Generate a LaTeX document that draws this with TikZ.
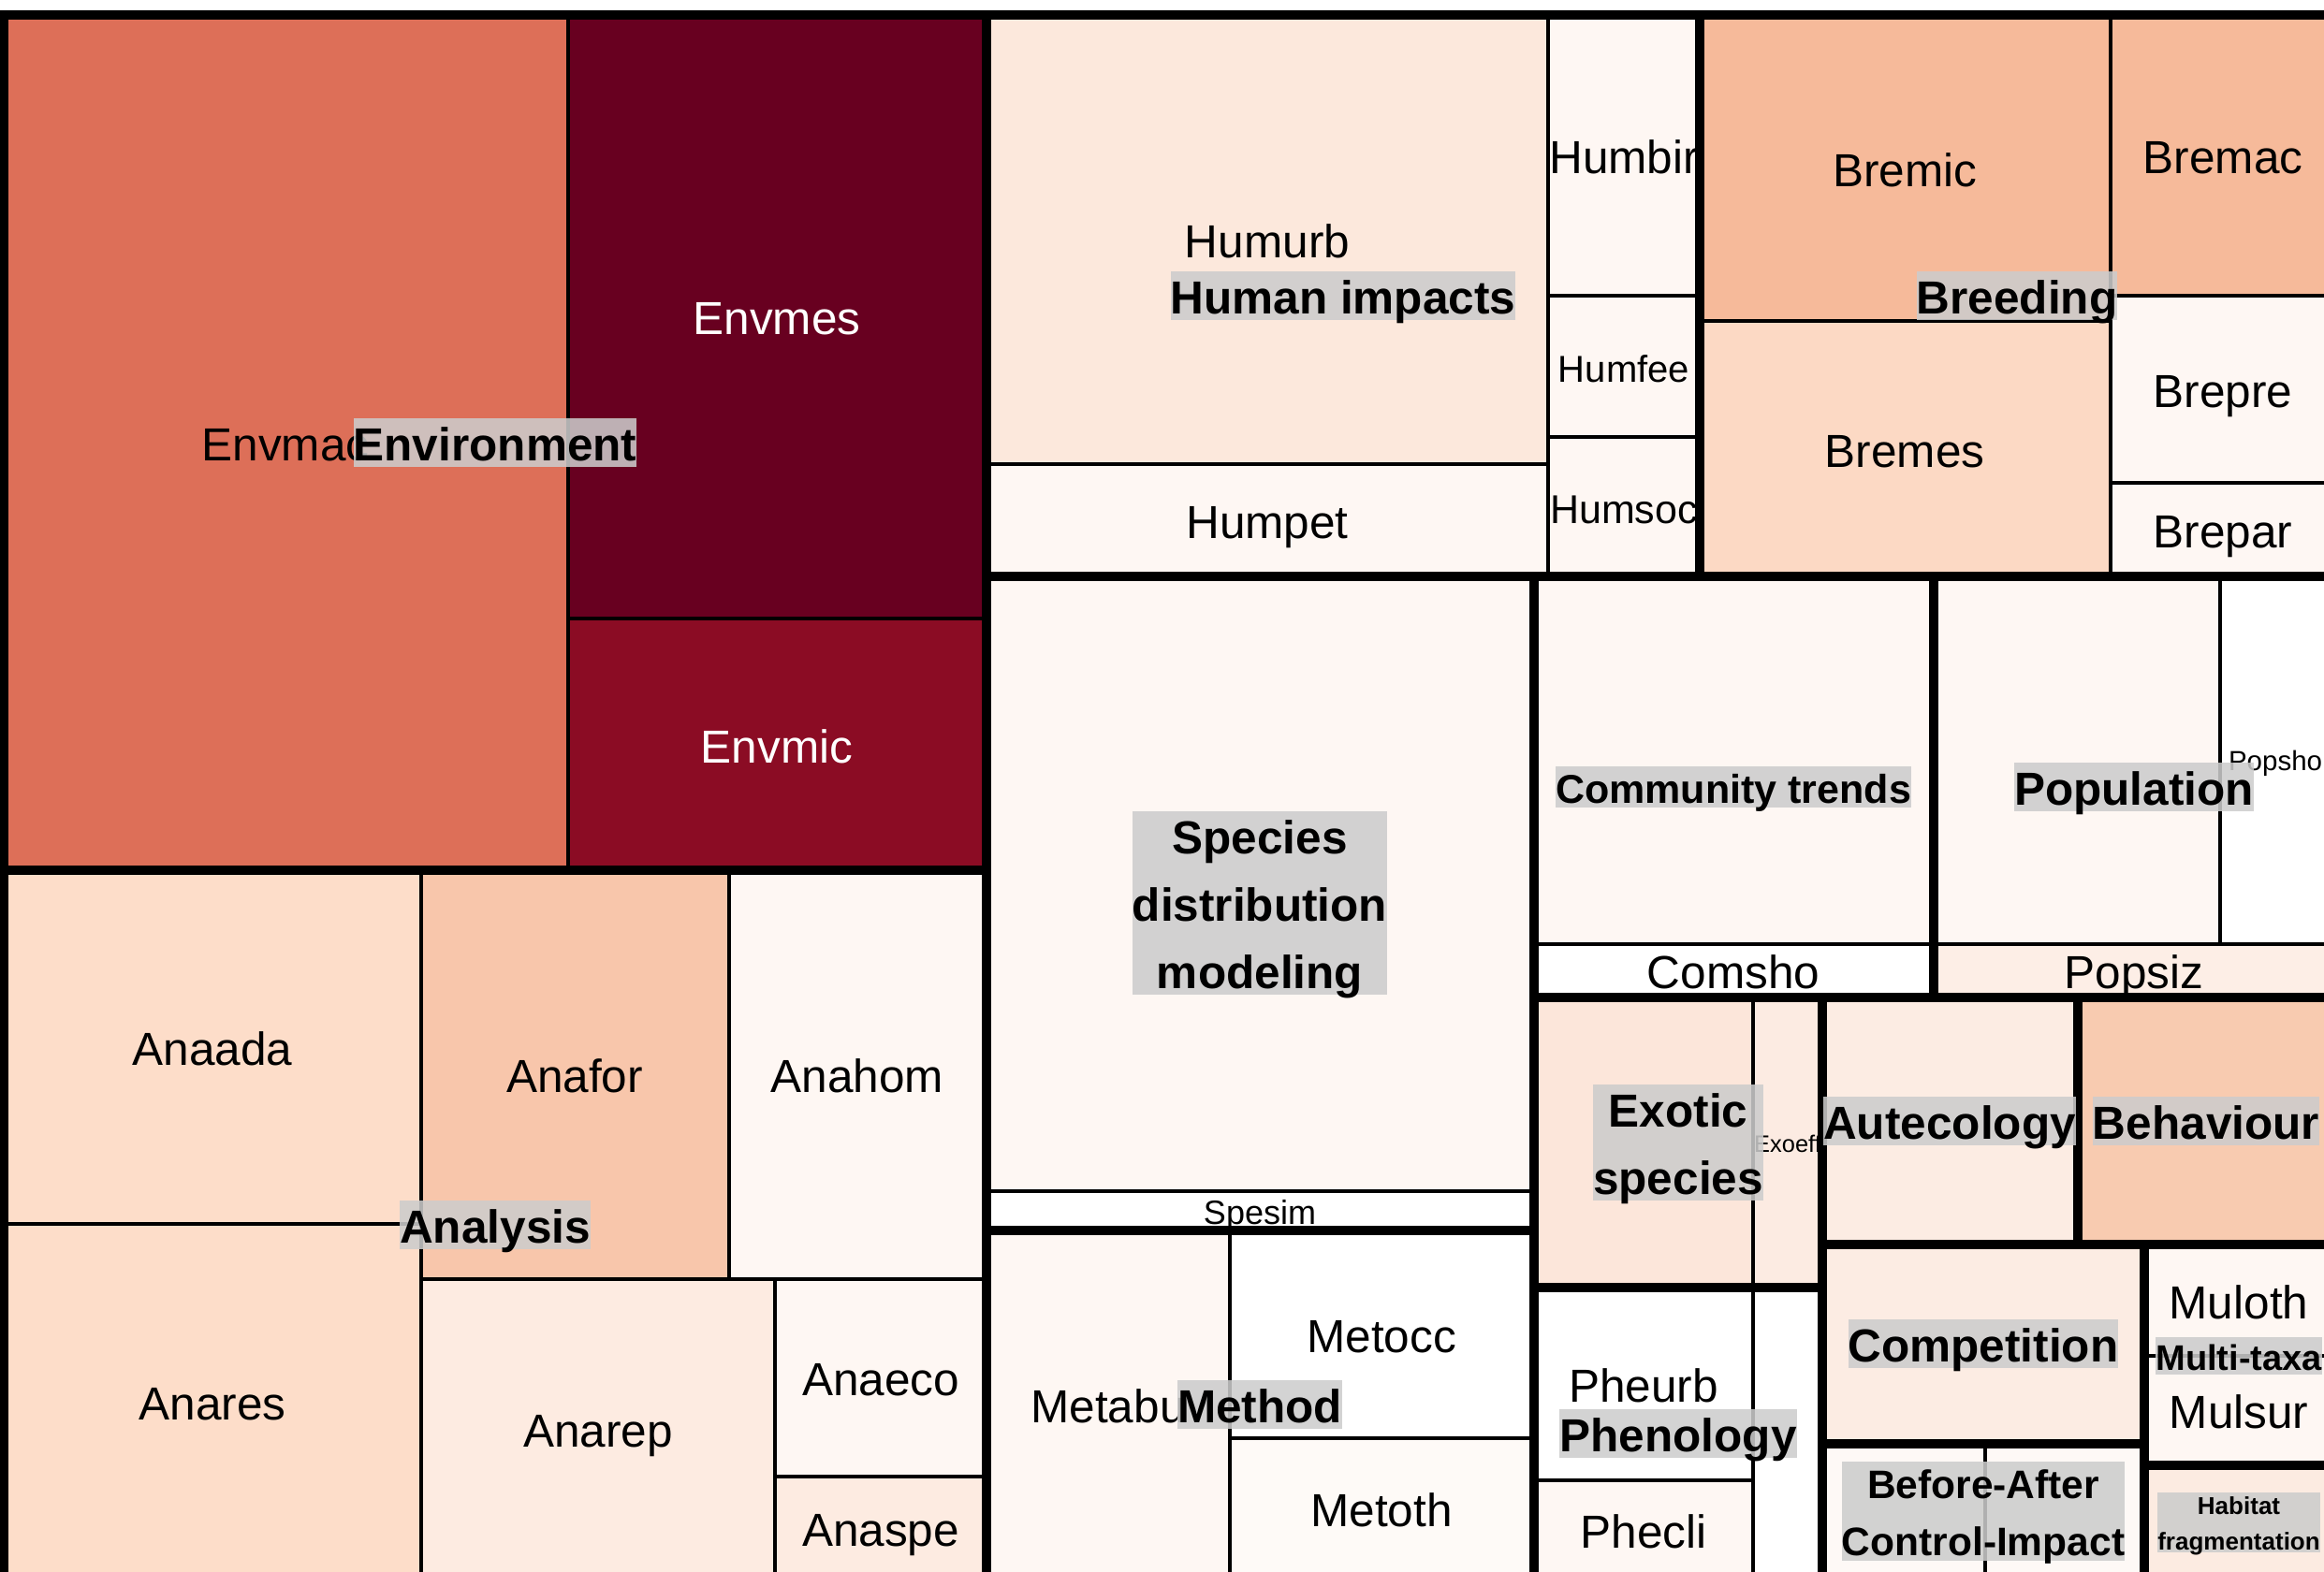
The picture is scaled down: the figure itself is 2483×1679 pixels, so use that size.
\documentclass[tikz,border=0pt]{standalone}
\usepackage{fontspec}
\setmainfont{Liberation Sans}

% one label line: fixed height/depth strut, glyphs smashed so every box has the same size
\newcommand\labline[1]{\rule[-0.12em]{0pt}{1.04em}\smash{#1}}
% font size with a line spacing of 1.455em
\newcommand\fsz[1]{\fontsize{#1}{#1}\selectfont\baselineskip=1.455em\relax}

\definecolor{labgrey}{RGB}{204,204,204}
\definecolor{cEnvmac}{HTML}{DD6F58}
\definecolor{cEnvmes}{HTML}{680020}
\definecolor{cEnvmic}{HTML}{8B0C24}
\definecolor{cHumurb}{HTML}{FCE8DC}
\definecolor{cPale}{HTML}{FEF7F3}
\definecolor{cBremic}{HTML}{F6BA9A}
\definecolor{cBremes}{HTML}{FCD9C4}
\definecolor{cAnaada}{HTML}{FDDDC9}
\definecolor{cAnafor}{HTML}{F8C6AB}
\definecolor{cAnarep}{HTML}{FDEBE1}
\definecolor{cMetoth}{HTML}{FEFAF7}
\definecolor{cPopsiz}{HTML}{FDEEE6}
\definecolor{cExomain}{HTML}{FCE6DA}
\definecolor{cExoeff}{HTML}{FCEBE2}
\definecolor{cAutec}{HTML}{FCECE3}
\definecolor{cBehav}{HTML}{F8CBB0}
\definecolor{cBaci}{HTML}{FEF9F6}
\definecolor{cHabfrag}{HTML}{FCEBE1}

\begin{document}
\begin{tikzpicture}[x=0.01cm,y=-0.01cm,
  cell/.style={draw=black,line width=1pt},
  group/.style={draw=black,line width=2.85pt},
  sublab/.style={inner sep=0pt,align=center,font=\fsz{#1}},
  sublab/.default=14.08,
  grplab/.style={inner sep=0pt,align=center,fill=labgrey,fill opacity=0.863,
                 text opacity=1,font=\bfseries\fsz{#1}},
  grplab/.default=14.08,
]
\useasboundingbox (0,0) rectangle (2483,1679);
\clip (0,0) rectangle (2483,1679);
\fill[white] (0,0) rectangle (2483,1679);

% ---------- leaf cells ----------
% Environment
\filldraw[cell,fill=cEnvmac] (4,16) rectangle (607,930);
\filldraw[cell,fill=cEnvmes] (607,16) rectangle (1054,661);
\filldraw[cell,fill=cEnvmic] (607,661) rectangle (1054,930);
% Human impacts
\filldraw[cell,fill=cHumurb] (1054,16) rectangle (1654,496);
\filldraw[cell,fill=cPale] (1054,496) rectangle (1654,616);
\filldraw[cell,fill=cPale] (1654,16) rectangle (1816,316);
\filldraw[cell,fill=cPale] (1654,316) rectangle (1816,467);
\filldraw[cell,fill=cPale] (1654,467) rectangle (1816,616);
% Breeding
\filldraw[cell,fill=cBremic] (1816,16) rectangle (2255,343);
\filldraw[cell,fill=cBremes] (1816,343) rectangle (2255,616);
\filldraw[cell,fill=cBremic] (2255,16) rectangle (2494,316);
\filldraw[cell,fill=cPale] (2255,316) rectangle (2494,516);
\filldraw[cell,fill=cPale] (2255,516) rectangle (2494,616);
% Analysis
\filldraw[cell,fill=cAnaada] (4,930) rectangle (450,1308);
\filldraw[cell,fill=cAnaada] (4,1308) rectangle (450,1688);
\filldraw[cell,fill=cAnafor] (450,930) rectangle (779,1367);
\filldraw[cell,fill=cPale] (779,930) rectangle (1054,1367);
\filldraw[cell,fill=cAnarep] (450,1367) rectangle (828,1688);
\filldraw[cell,fill=cPale] (828,1367) rectangle (1054,1578);
\filldraw[cell,fill=cAnarep] (828,1578) rectangle (1054,1688);
% Species distribution modeling
\filldraw[cell,fill=cPale] (1054,616) rectangle (1639,1273);
\filldraw[cell,fill=white] (1054,1273) rectangle (1639,1315);
% Method
\filldraw[cell,fill=cPale] (1054,1315) rectangle (1314,1688);
\filldraw[cell,fill=white] (1314,1315) rectangle (1639,1537);
\filldraw[cell,fill=cMetoth] (1314,1537) rectangle (1639,1688);
% Community trends
\filldraw[cell,fill=cPale] (1639,616) rectangle (2066,1009);
\filldraw[cell,fill=white] (1639,1009) rectangle (2066,1066);
% Population
\filldraw[cell,fill=cPale] (2066,616) rectangle (2372,1009);
\filldraw[cell,fill=white] (2372,616) rectangle (2494,1009);
\filldraw[cell,fill=cPopsiz] (2066,1009) rectangle (2494,1066);
% Exotic species
\filldraw[cell,fill=cExomain] (1639,1066) rectangle (1873,1376);
\filldraw[cell,fill=cExoeff] (1873,1066) rectangle (1947,1376);
% Phenology
\filldraw[cell,fill=white] (1639,1376) rectangle (1873,1582);
\filldraw[cell,fill=cPale] (1639,1582) rectangle (1873,1688);
\filldraw[cell,fill=white] (1873,1376) rectangle (1947,1688);
% Autecology, Behaviour, Competition
\filldraw[cell,fill=cAutec] (1947,1066) rectangle (2220,1330);
\filldraw[cell,fill=cBehav] (2220,1066) rectangle (2494,1330);
\filldraw[cell,fill=cAutec] (1947,1330) rectangle (2291,1543);
% Before-After Control-Impact
\filldraw[cell,fill=cBaci] (1947,1543) rectangle (2121,1688);
\filldraw[cell,fill=cBaci] (2121,1543) rectangle (2291,1688);
% Multi-taxa
\filldraw[cell,fill=cPale] (2291,1330) rectangle (2494,1449);
\filldraw[cell,fill=cPale] (2291,1449) rectangle (2494,1566);
% Habitat fragmentation
\filldraw[cell,fill=cHabfrag] (2291,1566) rectangle (2494,1688);

% ---------- leaf labels ----------
\node[sublab] (lEnvmac) at (305,473) {\labline{Envmac}};
\node[sublab,text=white] (lEnvmes) at (830,338) {\labline{Envmes}};
\node[sublab,text=white] (lEnvmic) at (830,796) {\labline{Envmic}};
\node[sublab] (lHumurb) at (1354,256) {\labline{Humurb}};
\node[sublab] (lHumpet) at (1354,556) {\labline{Humpet}};
\node[sublab] (lHumbir) at (1735,166) {\labline{Humbir}};
\node[sublab=11.38] (lHumfee) at (1735,392) {\labline{Humfee}};
\node[sublab=12.23] (lHumsoc) at (1735,542) {\labline{Humsoc}};
\node[sublab] (lBremic) at (2035,180) {\labline{Bremic}};
\node[sublab] (lBremes) at (2035,480) {\labline{Bremes}};
\node[sublab] (lBremac) at (2375,166) {\labline{Bremac}};
\node[sublab] (lBrepre) at (2375,416) {\labline{Brepre}};
\node[sublab] (lBrepar) at (2375,566) {\labline{Brepar}};
\node[sublab] (lAnaada) at (227,1119) {\labline{Anaada}};
\node[sublab] (lAnares) at (227,1498) {\labline{Anares}};
\node[sublab] (lAnafor) at (614,1148) {\labline{Anafor}};
\node[sublab] (lAnahom) at (916,1148) {\labline{Anahom}};
\node[sublab] (lAnarep) at (639,1527) {\labline{Anarep}};
\node[sublab] (lAnaeco) at (941,1472) {\labline{Anaeco}};
\node[sublab] (lAnaspe) at (941,1633) {\labline{Anaspe}};
\node[sublab=10.24] (lSpesim) at (1346,1294) {\labline{Spesim}};
\node[sublab] (lMetabu) at (1184,1501) {\labline{Metabu}};
\node[sublab] (lMetocc) at (1476,1426) {\labline{Metocc}};
\node[sublab] (lMetoth) at (1476,1612) {\labline{Metoth}};
\node[sublab] (lComsho) at (1852,1037) {\labline{Comsho}};
\node[sublab=8.39] (lPopsho) at (2431,812) {\labline{Popsho}};
\node[sublab] (lPopsiz) at (2280,1037) {\labline{Popsiz}};
\node[sublab=7.23] (lExoeff) at (1910,1221) {\labline{Exoeff}};
\node[sublab] (lPheurb) at (1756,1479) {\labline{Pheurb}};
\node[sublab] (lPhecli) at (1756,1635) {\labline{Phecli}};
\node[sublab] (lMuloth) at (2392,1390) {\labline{Muloth}};
\node[sublab] (lMulsur) at (2392,1507) {\labline{Mulsur}};

% ---------- group borders ----------
\draw[group] (4,16) rectangle (1054,930);
\draw[group] (1054,16) rectangle (1816,616);
\draw[group] (1816,16) rectangle (2494,616);
\draw[group] (4,930) rectangle (1054,1688);
\draw[group] (1054,616) rectangle (1639,1315);
\draw[group] (1054,1315) rectangle (1639,1688);
\draw[group] (1639,616) rectangle (2066,1066);
\draw[group] (2066,616) rectangle (2494,1066);
\draw[group] (1639,1066) rectangle (1947,1376);
\draw[group] (1639,1376) rectangle (1947,1688);
\draw[group] (1947,1066) rectangle (2220,1330);
\draw[group] (2220,1066) rectangle (2494,1330);
\draw[group] (1947,1330) rectangle (2291,1543);
\draw[group] (1947,1543) rectangle (2291,1688);
\draw[group] (2291,1330) rectangle (2494,1566);
\draw[group] (2291,1566) rectangle (2494,1688);

% ---------- group labels ----------
\node[grplab] (gEnv) at (529,473) {\labline{Environment}};
\node[grplab] (gHum) at (1435,316) {\labline{Human impacts}};
\node[grplab] (gBre) at (2155,316) {\labline{Breeding}};
\node[grplab] (gAna) at (529,1309) {\labline{Analysis}};
\node[grplab] (gSdm) at (1346,965) {\labline{Species}\\\labline{distribution}\\\labline{modeling}};
\node[grplab] (gMet) at (1346,1501) {\labline{Method}};
\node[grplab=12.23] (gCom) at (1852,841) {\labline{Community trends}};
\node[grplab] (gPop) at (2280,841) {\labline{Population}};
\node[grplab] (gExo) at (1793,1221) {\labline{Exotic}\\\labline{species}};
\node[grplab] (gAut) at (2083,1198) {\labline{Autecology}};
\node[grplab] (gBeh) at (2357,1198) {\labline{Behaviour}};
\node[grplab] (gCmp) at (2119,1436) {\labline{Competition}};
\node[grplab=10.81] (gMul) at (2392,1449) {\labline{Multi-taxa}};
\node[grplab=12.09] (gBaci) at (2119,1615) {\labline{Before-After}\\\labline{Control-Impact}};
\node[grplab] (gPhe) at (1793,1532) {\labline{Phenology}};
\node[grplab=7.40] (gHab) at (2392,1627) {\labline{Habitat}\\\labline{fragmentation}};
\end{tikzpicture}
\end{document}
